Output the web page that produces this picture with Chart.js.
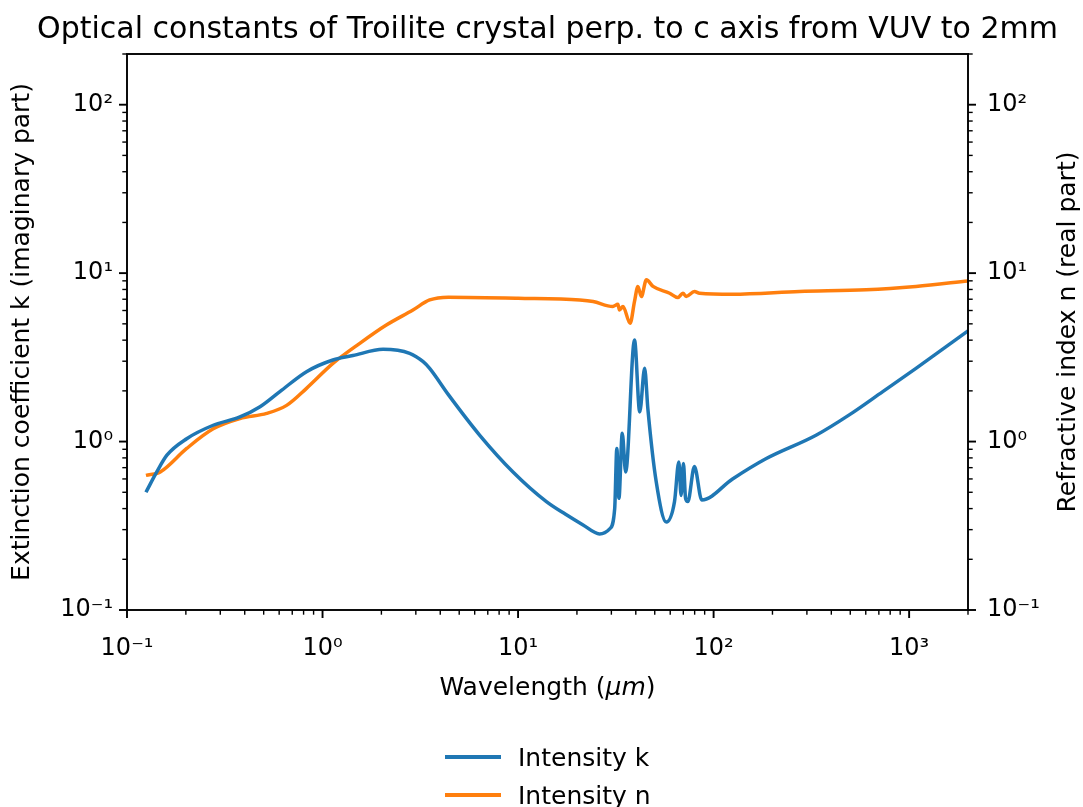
<!DOCTYPE html>
<html>
<head>
<meta charset="utf-8">
<script src="https://cdn.jsdelivr.net/npm/chart.js@4.4.0/dist/chart.umd.min.js"></script>
<style>
  html, body { margin: 0; padding: 0; background: #fff; }
  #wrap { position: relative; width: 1083px; height: 807px; }
  #legend { position: absolute; left: 445px; top: 738px; font-family: 'DejaVu Sans'; font-size: 25px; color: #000; }
  .item { display: flex; align-items: center; height: 38px; }
  .swatch { width: 56px; height: 3.5px; margin-right: 17px; }
</style>
</head>
<body>
<div id="wrap">
  <canvas id="chart" width="1083" height="807"></canvas>
  <div id="legend">
    <div class="item"><span class="swatch" style="background:#1f77b4"></span>Intensity k</div>
    <div class="item"><span class="swatch" style="background:#ff7f0e"></span>Intensity n</div>
  </div>
</div>
<script>
// 波長 (µm) と消衰係数 k
const wlK = [0.125, 0.142, 0.16, 0.202, 0.276, 0.378, 0.479, 0.605, 0.828, 1.13, 1.43, 2.04, 2.79, 3.27, 3.53, 4.4,
    6.37, 9.42, 13.96, 17.5, 21.5, 26.1, 29.4, 31.2, 32.0, 32.8, 34.1, 35.5, 39.4, 41.9, 44.4, 46.1,
    50.9, 57.3, 63.1, 66.4, 68.2, 70.1, 71.9, 73.8, 79.8, 87, 125, 185, 334, 494, 733, 1084, 2000];
const kVals = [0.50, 0.66, 0.83, 1.04, 1.25, 1.40, 1.61, 1.98, 2.60, 3.05, 3.24, 3.53, 3.34, 2.98, 2.72, 1.9,
    1.09, 0.66, 0.44, 0.37, 0.32, 0.283, 0.303, 0.40, 0.91, 0.46, 1.12, 0.66, 4.01, 1.50, 2.72, 1.57,
    0.575, 0.333, 0.44, 0.757, 0.479, 0.74, 0.458, 0.44, 0.71, 0.45, 0.60, 0.79, 1.09, 1.44, 1.98, 2.72, 4.54];

// 波長 (µm) と屈折率 n
const wlN = [0.125, 0.148, 0.202, 0.276, 0.378, 0.518, 0.655, 0.828, 1.13, 1.55, 2.12, 2.90, 3.53, 4.4, 10,
    20.7, 24.2, 30.5, 32.4, 33.0, 34.4, 37.4, 39.4, 41.0, 42.7, 45.3, 49.0, 59.6, 65.6, 69.7, 72.4,
    79.8, 84.7, 125, 275, 603, 1084, 2000];
const nVals = [0.63, 0.66, 0.91, 1.19, 1.37, 1.47, 1.64, 2.07, 2.91, 3.83, 4.92, 6.04, 6.93, 7.2, 7.1,
    6.93, 6.79, 6.34, 6.53, 6.05, 6.34, 5.04, 6.79, 8.34, 7.26, 9.12, 8.34, 7.60, 7.16, 7.60, 7.26,
    7.78, 7.60, 7.50, 7.78, 7.96, 8.34, 8.99];

const xRange = [0.1, 2000];
const yRange = [0.1, 200];

const FONT = "'DejaVu Sans'";
const SUP = { '-': '⁻', '0': '⁰', '1': '¹', '2': '²', '3': '³', '4': '⁴' };

function isPow10(v) {
    const e = Math.log10(v);
    return Math.abs(e - Math.round(e)) < 1e-9;
}
function powLabel(v) {
    if (!isPow10(v)) return '';
    const e = String(Math.round(Math.log10(v)));
    return '10' + e.split('').map(c => SUP[c]).join('');
}
function keepMajor(scale) {
    scale.ticks = scale.ticks.filter(t => isPow10(t.value));
}
function tickList(min, max) {
    const out = [];
    for (let d = Math.floor(Math.log10(min)); d <= Math.ceil(Math.log10(max)); d++) {
        for (let m = 1; m <= 9; m++) {
            const v = m * Math.pow(10, d);
            if (v >= min * 0.999 && v <= max * 1.001) out.push({ v, major: m === 1 });
        }
    }
    return out;
}

// 枠線・目盛り・タイトル類
const decorPlugin = {
    id: 'decor',
    afterDraw(chart) {
        const ctx = chart.ctx, a = chart.chartArea;
        const xs = chart.scales.x, yl = chart.scales.y, yr = chart.scales.y2;
        ctx.save();
        ctx.strokeStyle = '#000';

        tickList(xRange[0], xRange[1]).forEach(t => {
            const px = xs.getPixelForValue(t.v);
            ctx.lineWidth = t.major ? 1.9 : 1.4;
            ctx.beginPath();
            ctx.moveTo(px, a.bottom);
            ctx.lineTo(px, a.bottom + (t.major ? 8 : 4.7));
            ctx.stroke();
        });
        tickList(yRange[0], yRange[1]).forEach(t => {
            const py = yl.getPixelForValue(t.v);
            const len = t.major ? 8 : 4.7;
            ctx.lineWidth = t.major ? 1.9 : 1.4;
            ctx.beginPath();
            ctx.moveTo(a.left, py);
            ctx.lineTo(a.left - len, py);
            ctx.stroke();
            const pr = yr.getPixelForValue(t.v);
            ctx.beginPath();
            ctx.moveTo(a.right, pr);
            ctx.lineTo(a.right + len, pr);
            ctx.stroke();
        });

        ctx.lineWidth = 1.9;
        ctx.strokeRect(a.left, a.top, a.right - a.left, a.bottom - a.top);

        ctx.fillStyle = '#000';
        ctx.textAlign = 'center';
        ctx.textBaseline = 'middle';
        const cx = (a.left + a.right) / 2;
        const cy = (a.top + a.bottom) / 2;

        ctx.font = '30px ' + FONT;
        ctx.fillText('Optical constants of Troilite crystal perp. to c axis from VUV to 2mm', cx, 30);

        // x軸ラベル (µm はイタリック)
        const p1 = 'Wavelength (', p3 = ')';
        ctx.font = 'italic 25px ' + FONT;
        const w2 = ctx.measureText('μm').width;
        ctx.font = '25px ' + FONT;
        const w1 = ctx.measureText(p1).width, w3 = ctx.measureText(p3).width;
        const x0 = cx - (w1 + w2 + w3) / 2;
        ctx.textAlign = 'left';
        ctx.fillText(p1, x0, 688);
        ctx.font = 'italic 25px ' + FONT;
        ctx.fillText('μm', x0 + w1, 688);
        ctx.font = '25px ' + FONT;
        ctx.fillText(p3, x0 + w1 + w2, 688);

        ctx.textAlign = 'center';
        ctx.save();
        ctx.translate(22, cy);
        ctx.rotate(-Math.PI / 2);
        ctx.fillText('Extinction coefficient k (imaginary part)', 0, 0);
        ctx.restore();

        ctx.save();
        ctx.translate(1068, cy);
        ctx.rotate(-Math.PI / 2);
        ctx.fillText('Refractive index n (real part)', 0, 0);
        ctx.restore();

        ctx.restore();
    }
};

const tickFont = { family: FONT, size: 24 };

new Chart(document.getElementById('chart').getContext('2d'), {
    type: 'line',
    data: {
        datasets: [{
            label: 'Intensity k',
            data: wlK.map((w, i) => ({ x: w, y: kVals[i] })),
            borderColor: '#1f77b4',
            borderWidth: 3.5,
            pointRadius: 0,
            cubicInterpolationMode: 'monotone',
            yAxisID: 'y'
        }, {
            label: 'Intensity n',
            data: wlN.map((w, i) => ({ x: w, y: nVals[i] })),
            borderColor: '#ff7f0e',
            borderWidth: 3.5,
            pointRadius: 0,
            cubicInterpolationMode: 'monotone',
            yAxisID: 'y2'
        }]
    },
    options: {
        responsive: false,
        animation: false,
        layout: { padding: { top: 54, left: 0, right: 0, bottom: 0 } },
        plugins: {
            legend: { display: false },
            title: { display: false },
            tooltip: { enabled: false }
        },
        scales: {
            x: {
                type: 'logarithmic',
                min: xRange[0],
                max: xRange[1],
                grid: { display: false, drawTicks: false },
                border: { display: false },
                afterBuildTicks: keepMajor,
                afterFit: s => { s.height = 197; },
                ticks: {
                    font: tickFont, color: '#000', padding: 24,
                    maxRotation: 0, autoSkip: false,
                    callback: v => powLabel(v)
                }
            },
            y: {
                type: 'logarithmic',
                position: 'left',
                min: yRange[0],
                max: yRange[1],
                grid: { display: false, drawTicks: false },
                border: { display: false },
                afterBuildTicks: keepMajor,
                afterFit: s => { s.width = 127; },
                ticks: {
                    font: tickFont, color: '#000', padding: 14, autoSkip: false,
                    callback: v => powLabel(v)
                }
            },
            y2: {
                type: 'logarithmic',
                position: 'right',
                min: yRange[0],
                max: yRange[1],
                grid: { display: false, drawTicks: false },
                border: { display: false },
                afterBuildTicks: keepMajor,
                afterFit: s => { s.width = 115; },
                ticks: {
                    font: tickFont, color: '#000', padding: 19, autoSkip: false,
                    callback: v => powLabel(v)
                }
            }
        }
    },
    plugins: [decorPlugin]
});
</script>
</body>
</html>
